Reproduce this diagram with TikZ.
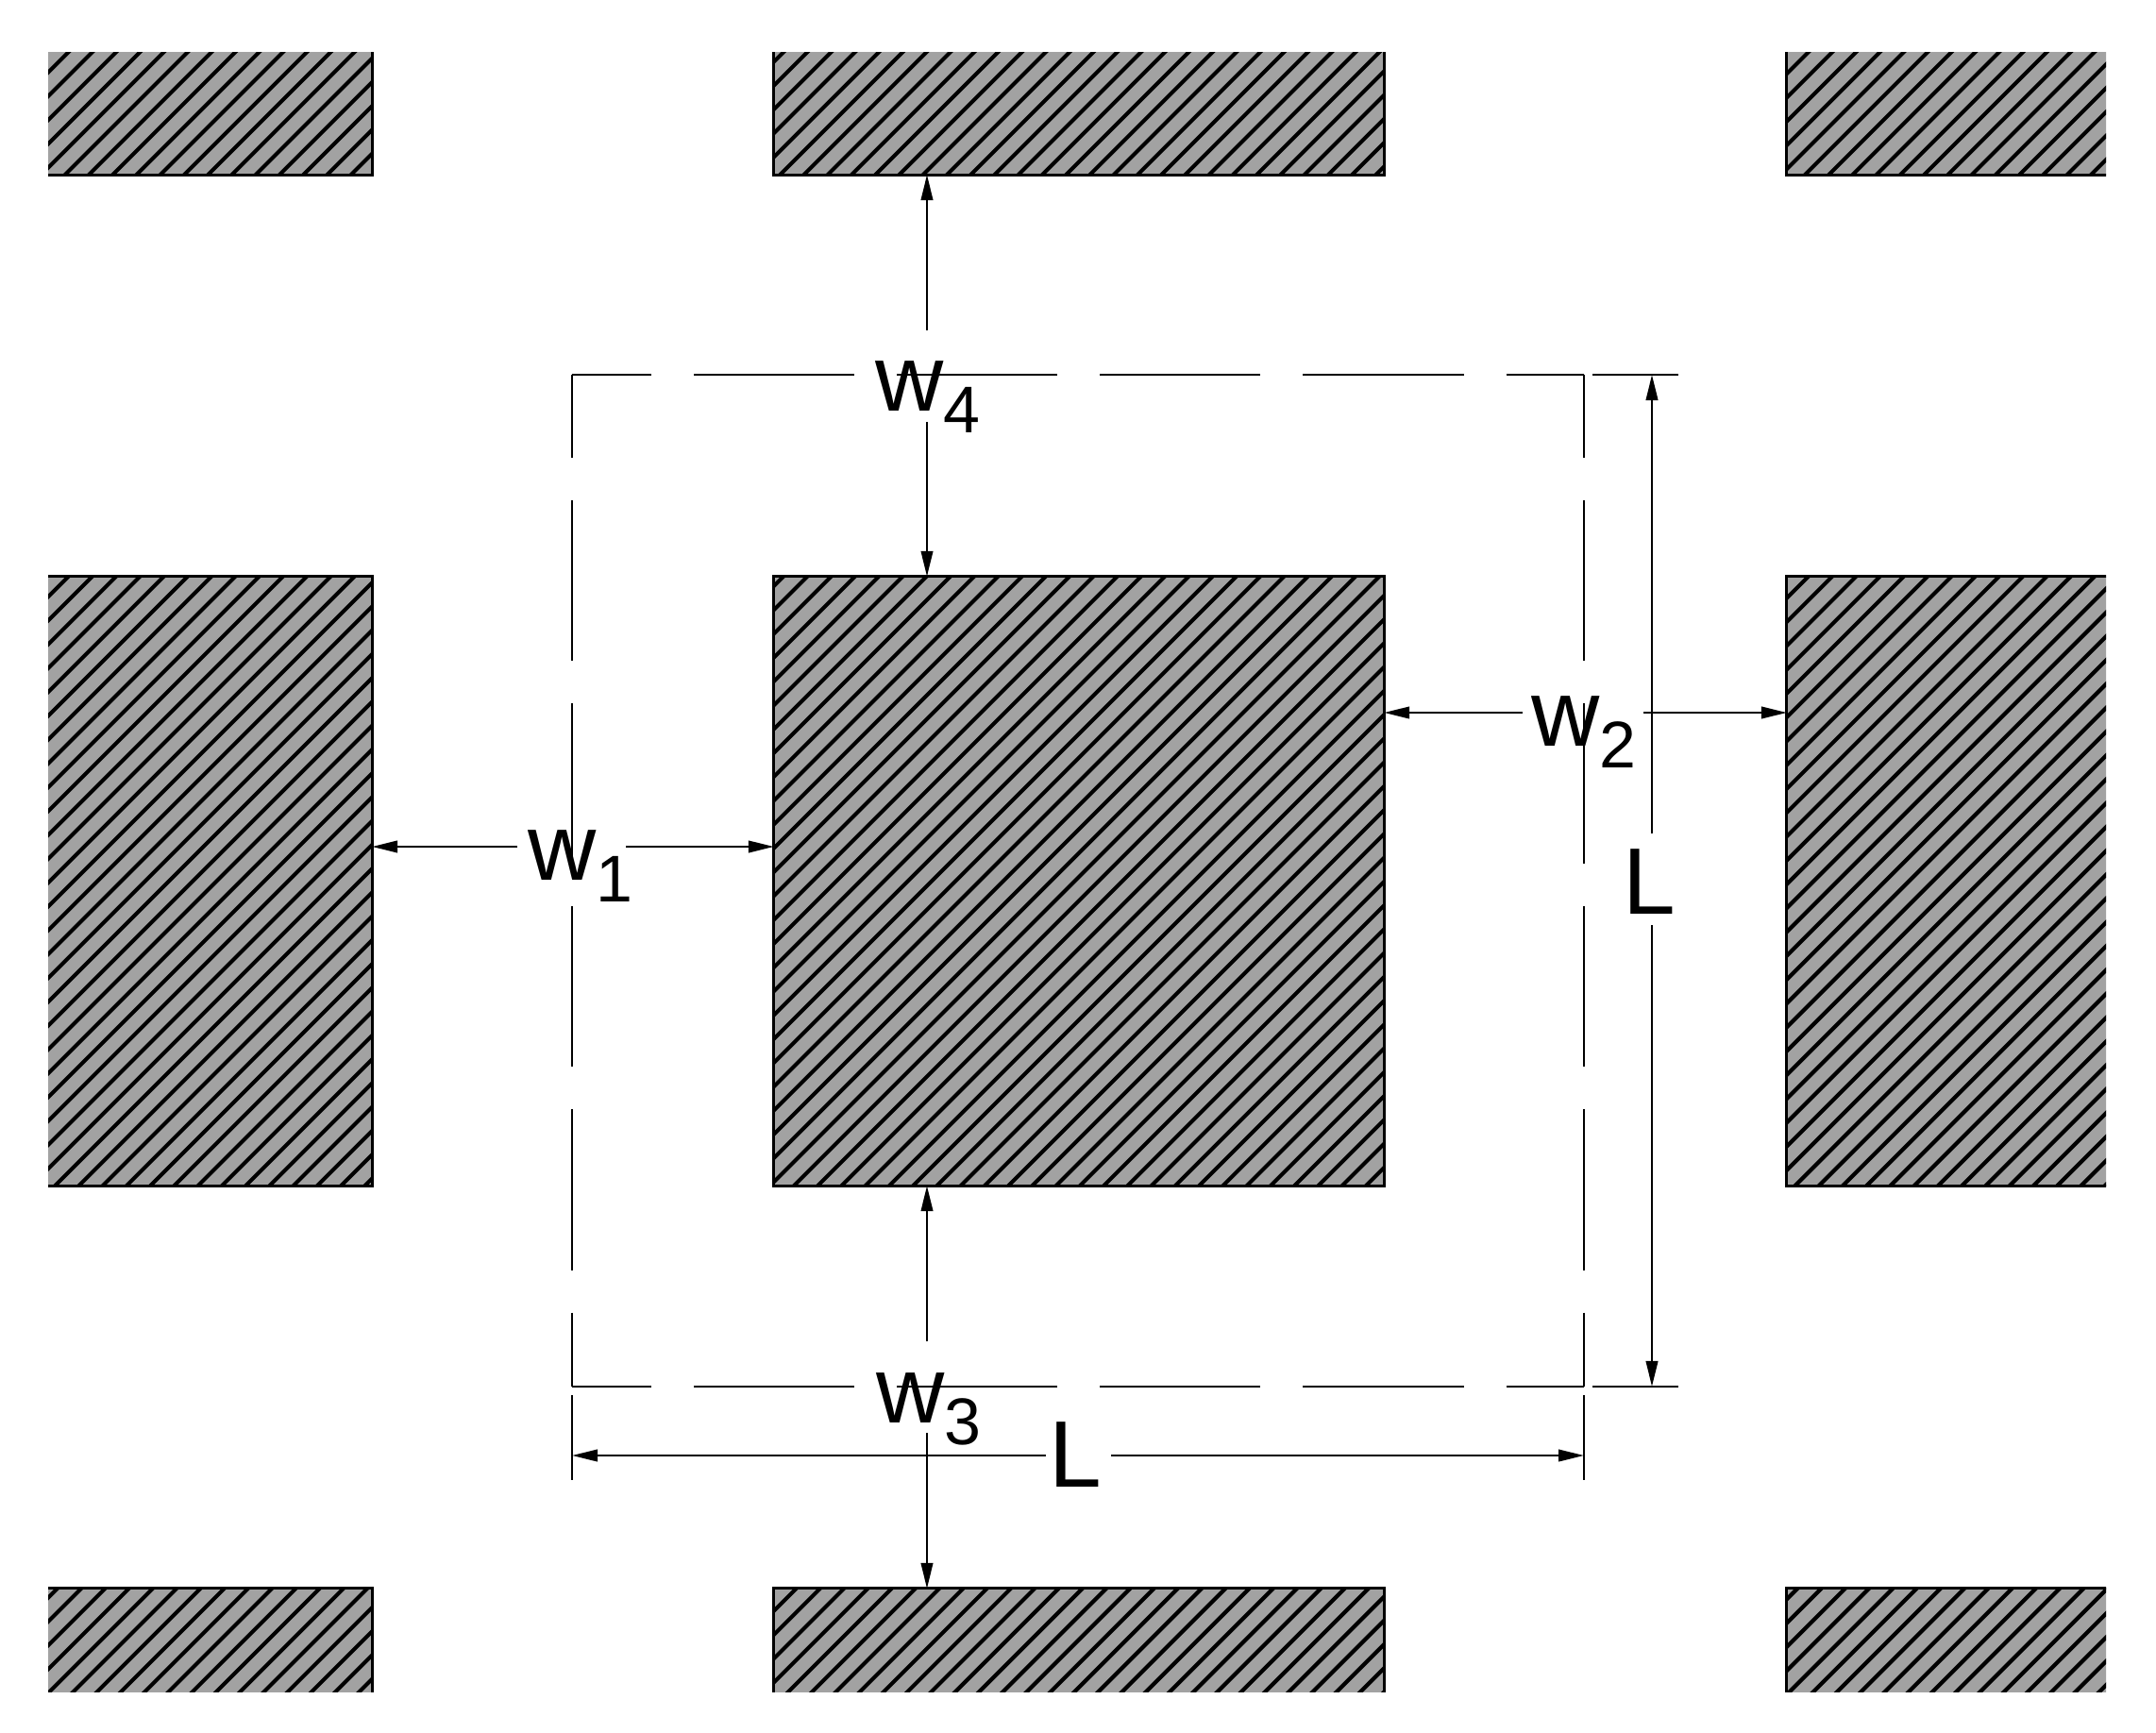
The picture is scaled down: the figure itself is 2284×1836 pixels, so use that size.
\documentclass[tikz,border=0pt]{standalone}
\usepackage{fontspec}
\setmainfont{Liberation Sans}
\usetikzlibrary{arrows.meta}
\definecolor{padgray}{HTML}{A2A2A2}
\tikzset{>={Stealth[length=0.27cm,width=0.125cm,inset=0pt]}}
\tikzset{
  pad/.style={draw=black,fill=padgray,line width=0.03cm,inner sep=0pt,outer sep=0pt},
  hatchline/.style={draw=black,line width=0.042cm},
  dimline/.style={draw=black,line width=0.024cm},
  boxline/.style={draw=black,line width=0.027cm,dash pattern=on 1.7cm off 0.45cm},
  dimlabel/.style={inner sep=0pt,anchor=base west,font=\fontsize{28.45}{30}\selectfont}
}
\newcommand{\wsub}[1]{w\raisebox{-0.23cm}{\fontsize{19.9}{20}\selectfont #1}}

\begin{document}
\begin{tikzpicture}[x=0.01cm,y=-0.01cm]
  \useasboundingbox (0,0) rectangle (2284,1836);
  \begin{scope}
    \clip (51,55) rectangle (2231,1792);
    %% pads
    \foreach \padname/\cx/\cy/\pw/\ph in {
      padtl/187/82.5/4.14cm/2.05cm, padtc/1143/82.5/6.46cm/2.05cm, padtr/2096.5/82.5/4.07cm/2.05cm,
      padml/187/933.5/4.14cm/6.45cm, padmc/1143/933.5/6.46cm/6.45cm, padmr/2096.5/933.5/4.07cm/6.45cm,
      padbl/187/1766.5/4.14cm/1.67cm, padbc/1143/1766.5/6.46cm/1.67cm, padbr/2096.5/1766.5/4.07cm/1.67cm}{
      \node[pad,minimum width=\pw,minimum height=\ph] (\padname) at (\cx,\cy) {};
      \begin{scope}
        \clip (\padname.south west) rectangle (\padname.north east);
        \foreach \k in {-55,-54,...,102}
          \draw[hatchline] ({1466+25.25*\k},0) -- ({1466+25.25*\k-1836},1836);
      \end{scope}
    }
  \end{scope}

  %% box
  \coordinate (boxnw) at (606,397);
  \coordinate (boxne) at (1678,397);
  \coordinate (boxsw) at (606,1469);
  \coordinate (boxse) at (1678,1469);
  \draw[boxline,dash phase=0.86cm] (boxnw) -- (boxne);
  \draw[boxline,dash phase=0.86cm] (boxsw) -- (boxse);
  \draw[boxline,dash phase=0.82cm] (boxnw) -- (boxsw);
  \draw[boxline,dash phase=0.82cm] (boxne) -- (boxse);

  %% extension lines
  \coordinate (extsl) at (606,1478);
  \coordinate (extsle) at (606,1568);
  \coordinate (extsr) at (1678,1478);
  \coordinate (extsre) at (1678,1568);
  \coordinate (extet) at (1687,397);
  \coordinate (extete) at (1778,397);
  \coordinate (exteb) at (1687,1469);
  \coordinate (extebe) at (1778,1469);
  \draw[dimline] (extsl) -- (extsle);
  \draw[dimline] (extsr) -- (extsre);
  \draw[boxline,solid] (extet) -- (extete);
  \draw[boxline,solid] (exteb) -- (extebe);

  %% labels
  \node[dimlabel] (wone) at (559,932) {\wsub{1}};
  \node[dimlabel] (wtwo) at (1622,790) {\wsub{2}};
  \node[dimlabel] (wthree) at (928,1507) {\wsub{3}};
  \node[dimlabel] (wfour) at (927,435) {\wsub{4}};
  \node[dimlabel] (lenh) at (1111,1575) {L};
  \node[dimlabel] (lenv) at (1719,968) {L};

  %% w1
  \coordinate (woa) at (548,897);
  \coordinate (wob) at (663,897);
  \draw[dimline,->] (woa) -- (woa -| padml.east);
  \draw[dimline,->] (wob) -- (wob -| padmc.west);
  %% w2
  \coordinate (wta) at (1613,755);
  \coordinate (wtb) at (1741,755);
  \draw[dimline,->] (wta) -- (wta -| padmc.east);
  \draw[dimline,->] (wtb) -- (wtb -| padmr.west);
  %% w3
  \coordinate (wha) at (982,1421);
  \coordinate (whb) at (982,1518);
  \draw[dimline,->] (wha) -- (wha |- padmc.south);
  \draw[dimline,->] (whb) -- (whb |- padbc.north);
  %% w4
  \coordinate (wfa) at (982,350);
  \coordinate (wfb) at (982,447);
  \draw[dimline,->] (wfa) -- (wfa |- padtc.south);
  \draw[dimline,->] (wfb) -- (wfb |- padmc.north);

  %% L
  \coordinate (lha) at (1108,1542);
  \coordinate (lhb) at (1177,1542);
  \draw[dimline,->] (lha) -- (lha -| boxsw);
  \draw[dimline,->] (lhb) -- (lhb -| boxse);
  \coordinate (lva) at (1750,883);
  \coordinate (lvb) at (1750,980);
  \draw[dimline,->] (lva) -- (lva |- boxne);
  \draw[dimline,->] (lvb) -- (lvb |- boxse);
\end{tikzpicture}
\end{document}
